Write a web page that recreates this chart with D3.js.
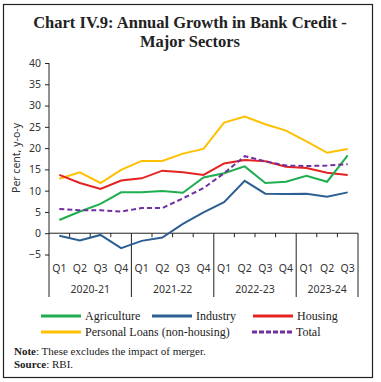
<!DOCTYPE html>
<html><head><meta charset="utf-8">
<script src="https://cdn.jsdelivr.net/npm/d3@7"></script>
<style>body{margin:0;background:#fff}svg{display:block}</style>
</head><body>
<script>
const quarters = ["Q1","Q2","Q3","Q4","Q1","Q2","Q3","Q4","Q1","Q2","Q3","Q4","Q1","Q2","Q3"];
const years = ["2020-21","2021-22","2022-23","2023-24"];
const yearSpans = [4,4,4,3];
const agriculture = [3.1,5.1,6.9,9.6,9.6,9.9,9.5,13.1,14.1,15.7,11.8,12.1,13.5,12.1,18.3];
const industry = [-0.6,-1.7,-0.4,-3.5,-1.8,-1.0,2.2,4.9,7.3,12.3,9.3,9.2,9.3,8.6,9.6];
const housing = [13.7,11.8,10.4,12.4,12.9,14.7,14.3,13.7,16.4,17.2,16.9,15.6,15.3,14.2,13.7];
const personalLoans = [12.8,14.3,11.8,14.9,17.0,17.0,18.7,19.8,26.0,27.4,25.6,24.1,21.6,18.9,19.8];
const total = [5.7,5.4,5.4,5.1,5.9,5.9,8.2,10.6,14.1,18.1,16.9,15.9,15.8,15.9,16.2];
const yTicks = [40,35,30,25,20,15,10,5,0,-5];

const W=381,H=382;
const svg=d3.select("body").append("svg").attr("width",W).attr("height",H);
svg.append("rect").attr("x",3.5).attr("y",4.5).attr("width",369).attr("height",373)
  .attr("fill","#fff").attr("stroke","#222").attr("stroke-width",1.2);

const serif="'Liberation Serif','DejaVu Serif',serif";
const sans="'Noto Sans','Liberation Sans',sans-serif";
svg.append("text").attr("x",190).attr("y",28).attr("text-anchor","middle")
  .style("font-family",serif).style("font-weight","bold").style("font-size","16.5px").attr("fill","#222")
  .text("Chart IV.9: Annual Growth in Bank Credit -");
svg.append("text").attr("x",190).attr("y",47).attr("text-anchor","middle")
  .style("font-family",serif).style("font-weight","bold").style("font-size","16.5px").attr("fill","#222")
  .text("Major Sectors");

const x0=49,x1=358;
const idx=d3.range(quarters.length);
const x=d3.scaleBand().domain(idx).range([x0,x1]).paddingInner(0).paddingOuter(0);
const y=d3.scaleLinear().domain([-5,40]).range([254.5,63]);
const cx=i=>x(i)+x.bandwidth()/2;

// y axis
const yAxis=d3.axisLeft(y).tickValues(yTicks).tickSize(4).tickPadding(4);
const gy=svg.append("g").attr("transform",`translate(${x0},0)`).call(yAxis);
gy.select(".domain").remove();
gy.selectAll("line").attr("stroke","#222");
gy.selectAll("text").style("font-family",sans).style("font-size","10.5px").attr("fill","#333");
svg.append("line").attr("x1",x0).attr("x2",x0).attr("y1",y(40)).attr("y2",297).attr("stroke","#222");

// x axis at 0
const y0=y(0);
svg.append("line").attr("x1",x0).attr("x2",x1).attr("y1",y0).attr("y2",y0).attr("stroke","#222");
const bounds=d3.range(1,quarters.length+1);
let cum=0; const yearBounds=[];
yearSpans.forEach(s=>{cum+=s;yearBounds.push(cum);});
svg.selectAll(".qt").data(bounds).enter().append("line")
  .attr("x1",d=>x0+d*x.bandwidth()).attr("x2",d=>x0+d*x.bandwidth())
  .attr("y1",y0).attr("y2",d=>yearBounds.includes(d)?297:y0+4).attr("stroke","#222");
svg.selectAll(".ql").data(quarters).enter().append("text")
  .attr("x",(d,i)=>cx(i)).attr("y",272).attr("text-anchor","middle")
  .style("font-family",sans).style("font-size","10.5px").attr("fill","#333").text(d=>d);
let start=0;
years.forEach((yr,k)=>{
  const s=start, e=start+yearSpans[k];
  svg.append("text").attr("x",x0+(s+e)/2*x.bandwidth()).attr("y",293).attr("text-anchor","middle")
    .style("font-family",sans).style("font-size","10.5px").attr("fill","#333").text(yr);
  start=e;
});

// y label
svg.append("text").attr("transform",`translate(20,158) rotate(-90)`).attr("text-anchor","middle")
  .style("font-family",sans).style("font-size","10.5px").attr("fill","#333").text("Per cent, y-o-y");

const series=[
  {name:"Personal Loans (non-housing)",data:personalLoans,color:"#ffc000",dash:null},
  {name:"Housing",data:housing,color:"#e3231f",dash:null},
  {name:"Agriculture",data:agriculture,color:"#1fae4f",dash:null},
  {name:"Industry",data:industry,color:"#2d5f92",dash:null},
  {name:"Total",data:total,color:"#7030a0",dash:"5,3"}
];
const line=d3.line().x((d,i)=>cx(i)).y(d=>y(d));
series.forEach(s=>{
  svg.append("path").datum(s.data).attr("d",line).attr("fill","none")
    .attr("stroke",s.color).attr("stroke-width",2).attr("stroke-dasharray",s.dash);
});

// legend
const leg=[
  {name:"Agriculture",color:"#1fae4f",dash:null,x:41,y:316},
  {name:"Industry",color:"#2d5f92",dash:null,x:152,y:316},
  {name:"Housing",color:"#e3231f",dash:null,x:253,y:316},
  {name:"Personal Loans (non-housing)",color:"#ffc000",dash:null,x:41,y:332},
  {name:"Total",color:"#7030a0",dash:"5,2",x:252,y:332}
];
leg.forEach(l=>{
  svg.append("line").attr("x1",l.x).attr("x2",l.x+40).attr("y1",l.y).attr("y2",l.y)
    .attr("stroke",l.color).attr("stroke-width",3).attr("stroke-dasharray",l.dash);
  svg.append("text").attr("x",l.x+44).attr("y",l.y+4).style("font-family",serif).style("font-size","12px")
    .attr("fill","#222").text(l.name);
});

const note=svg.append("text").attr("x",14).attr("y",355).style("font-family",serif).style("font-size","11px").attr("fill","#222");
note.append("tspan").style("font-weight","bold").text("Note");
note.append("tspan").text(": These excludes the impact of merger.");
const src=svg.append("text").attr("x",14).attr("y",368).style("font-family",serif).style("font-size","11px").attr("fill","#222");
src.append("tspan").style("font-weight","bold").text("Source");
src.append("tspan").text(": RBI.");
</script>
</body></html>
